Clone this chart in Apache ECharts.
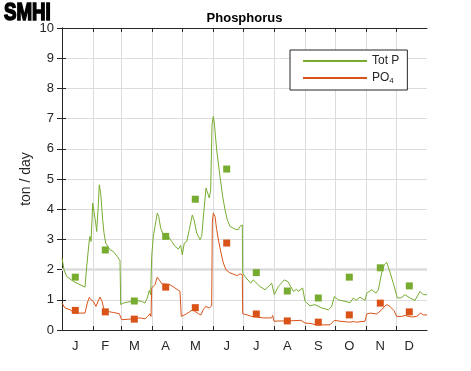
<!DOCTYPE html>
<html>
<head>
<meta charset="utf-8">
<script src="https://cdn.jsdelivr.net/npm/echarts@6/dist/echarts.min.js"></script>
<style>html,body{margin:0;padding:0;background:#fff;}#c{width:471px;height:371px;}</style>
</head>
<body>
<div id="c"></div>
<script>
// Month labels, month boundaries (day of year) and monthly sample days
var monthLabels = ['J','F','M','A','M','J','J','A','S','O','N','D'];
var monthStarts = [31,59,90,120,151,181,212,243,273,304,334];
var sampleDays = [13.3,43.3,72.3,103.7,133.3,164.7,194.3,225.3,256.3,287.3,318.3,347.3];
var yTicks = [0,1,2,3,4,5,6,7,8,9,10];

// Monthly samples
var totPSamples = [1.75,2.65,0.96,3.10,4.33,5.33,1.90,1.29,1.06,1.75,2.06,1.46];
var po4Samples  = [0.65,0.60,0.36,1.42,0.74,2.88,0.53,0.30,0.26,0.50,0.89,0.60];

// Daily model curves [day, ton/day]
var totPLine = [
[0,2.38],[2,2.0],[4.7,1.77],[11.3,1.61],[18,1.5],[23,1.42],[24.7,2.1],[27.3,2.99],[28,3.1],[29,2.93],
[30,3.65],[30.7,4.2],[32,4.25],[33.7,3.54],[34.7,3.26],[36,3.98],[37.3,4.81],[38.7,4.53],[40.7,3.65],[42,3.21],
[43.7,2.88],[48,2.66],[51.3,2.6],[55.3,2.43],[58,2.3],[58.7,0.84],[61.3,0.89],[68,0.94],[74.7,0.97],[79.7,0.95],
[83,0.89],[85.3,1.06],[87.3,1.31],[88.7,1.17],[89.7,2.43],[91.3,3.1],[93,3.43],[95.3,3.87],[96.7,3.76],[98.7,3.37],
[101.3,3.15],[106.3,3.1],[109.7,2.93],[113,2.77],[116.3,2.68],[118.7,2.8],[120.3,2.49],[122.3,2.88],[124.7,2.93],[127.3,3.32],
[130.3,3.81],[132,3.65],[134.7,3.21],[138,2.99],[139.7,3.1],[142,3.98],[144,4.7],[145.3,4.64],[147.3,4.37],[148.7,4.64],
[149.7,4.6],[150,6.79],[151.3,7.07],[152.3,6.85],[154.7,5.96],[158,5.08],[160.7,4.42],[163,3.98],[165.3,3.65],[168,3.43],
[173,3.34],[176.3,3.32],[178,3.43],[179,3.38],[180.3,3.48],[180.7,1.89],[183,1.77],[188.7,1.55],[191.3,1.66],[198,1.44],
[203,1.33],[209.7,1.55],[212.3,1.17],[216.3,1.44],[222.3,1.66],[226,1.6],[231.3,1.28],[234.7,1.35],[236.3,1.28],[240.7,1.39],
[243,0.95],[248,0.8],[253,0.84],[259.7,0.73],[266.3,0.67],[269.7,0.78],[272.3,1.11],[276.3,1.0],[283,0.95],[288,0.9],
[291.3,1.06],[294,0.98],[298,1.09],[303,0.98],[304.7,1.22],[309.7,1.33],[314,1.22],[316.3,1.33],[319.7,1.89],[322.3,2.16],
[324.7,2.24],[327.3,1.99],[331.3,1.55],[335.3,1.06],[338.7,1.06],[343,1.17],[348,1.06],[353,0.98],[358,1.28],[361.3,1.17],[365,1.17]
];
var po4Line = [
[0,0.89],[3,0.73],[8,0.67],[13,0.56],[23,0.56],[25.3,0.89],[27.3,1.08],[29,1.0],[31.3,0.95],[34,0.78],
[36,0.95],[38,1.09],[40,0.95],[42,0.67],[44.7,0.62],[51.3,0.58],[57.3,0.54],[59.7,0.34],[68,0.36],[78,0.4],
[83,0.37],[85.7,0.45],[88,0.54],[89,0.45],[89.7,1.39],[93,1.5],[95.3,1.75],[97.3,1.66],[99.7,1.53],[108,1.5],
[113,1.39],[118,1.28],[118.7,1.3],[119.3,0.45],[124.7,0.54],[126.3,0.54],[130.7,0.67],[136.3,0.54],[139,0.5],[141.3,0.67],
[143.7,0.78],[147.3,0.73],[149.7,0.8],[150.3,3.54],[151.3,3.87],[153,3.76],[154.7,3.32],[157,2.88],[159,2.55],[161.3,2.22],
[164,1.99],[168,1.89],[173,1.83],[175.3,1.8],[178,1.86],[180.3,1.83],[180.7,0.54],[185,0.5],[189.7,0.45],[195,0.43],
[201.3,0.4],[209.7,0.4],[210.7,0.48],[212,0.29],[218,0.3],[225,0.3],[239,0.32],[243,0.23],[248,0.22],[254.7,0.17],
[268,0.17],[269.7,0.2],[272.3,0.32],[278,0.29],[288,0.26],[291.3,0.28],[294.7,0.26],[303,0.29],[304.7,0.53],[308,0.56],
[314.7,0.53],[319.7,0.67],[323,0.8],[325.3,0.84],[328,0.78],[332,0.64],[334.7,0.45],[339.7,0.45],[343,0.48],[349.7,0.43],
[354.7,0.45],[358.7,0.56],[361.3,0.5],[365,0.5]
];

var GREEN = '#77AC30', ORANGE = '#D95319', AX = '#262626', GRID = '#dcdcdc';
var FONT = 'Liberation Sans, Arial, Helvetica, sans-serif';

function pairs(days, vals){ return days.map(function(d,i){ return [d, vals[i]]; }); }

var chart = echarts.init(document.getElementById('c'), null, {renderer:'canvas'});
chart.setOption({
  animation: false,
  textStyle: {fontFamily: FONT},
  graphic: [
    {type:'text', x:4, y:1, scaleX:0.78, style:{text:'SMHI', fill:'#000', stroke:'#000', lineWidth:1.6,
      font:'900 24px ' + FONT, textVerticalAlign:'top'}},
    {type:'text', x:244.5, y:18.5, style:{text:'Phosphorus', fill:'#000',
      font:'bold 13px ' + FONT, textAlign:'center', textVerticalAlign:'middle'}}
  ],
  grid: {left:62, right:44, top:28, bottom:41, containLabel:false},
  legend: {
    data: ['Tot P','PO4'], orient:'vertical', left:290, top:50,
    itemWidth:64, itemHeight:12, itemGap:5,
    itemStyle:{opacity:0},
    padding:[5,8,5,12], borderColor:AX, borderWidth:1, backgroundColor:'#fff',
    textStyle:{fontSize:12, color:AX, fontFamily:FONT,
      rich:{ m:{fontSize:12, color:AX, lineHeight:14}, sub:{fontSize:8, color:AX, verticalAlign:'bottom', lineHeight:8} } },
    formatter: function(n){ return n === 'PO4' ? '{m|PO}{sub|4}' : '{m|' + n + '}'; }
  },
  xAxis: [
    {type:'value', min:0, max:365, position:'bottom',
     axisLine:{show:true, onZero:false, lineStyle:{color:AX, width:1}},
     axisTick:{show:true, inside:true, length:4, customValues:monthStarts, lineStyle:{color:AX}},
     splitLine:{show:true, lineStyle:{color:GRID, width:1}},
     axisLabel:{show:true, customValues:sampleDays, margin:10, fontSize:13, color:AX, fontFamily:FONT,
       formatter:function(v){ var i = sampleDays.indexOf(v); return i >= 0 ? monthLabels[i] : ''; }}},
    {type:'value', min:0, max:365, position:'top',
     axisLine:{show:true, onZero:false, lineStyle:{color:AX, width:1}},
     axisTick:{show:true, inside:true, length:4, customValues:monthStarts, lineStyle:{color:AX}},
     splitLine:{show:false}, axisLabel:{show:false}}
  ],
  yAxis: [
    {type:'value', min:0, max:10, interval:1, position:'left',
     name:'ton / day', nameLocation:'middle', nameGap:29, nameMoveOverlap:false,
     nameTextStyle:{fontSize:14, color:AX, fontFamily:FONT},
     axisLine:{show:true, lineStyle:{color:AX, width:1}},
     axisTick:{show:true, inside:true, length:4, lineStyle:{color:AX}},
     splitLine:{show:true, lineStyle:{color:GRID, width:1}},
     axisLabel:{margin:8, fontSize:13, color:AX, fontFamily:FONT,
       formatter:function(v){ return yTicks.indexOf(v) >= 0 ? String(v) : ''; }}},
    {type:'value', min:0, max:10, interval:1, position:'right',
     axisLine:{show:true, lineStyle:{color:AX, width:1}},
     axisTick:{show:true, inside:true, length:5, lineStyle:{color:AX}},
     splitLine:{show:false}, axisLabel:{show:false}}
  ],
  series: [
    {name:'Tot P', type:'line', data:totPLine, symbol:'none', showSymbol:false,
     lineStyle:{color:GREEN, width:1}, itemStyle:{color:GREEN}, z:2,
     markLine:{silent:true, symbol:'none', label:{show:false},
       lineStyle:{color:GRID, width:2.5, type:'solid'}, data:[{yAxis:2}], z:1}},
    {name:'PO4', type:'line', data:po4Line, symbol:'none', showSymbol:false,
     lineStyle:{color:ORANGE, width:1}, itemStyle:{color:ORANGE}, z:2},
    {name:'Tot P sample', type:'scatter', data:pairs(sampleDays, totPSamples), symbol:'rect', symbolSize:7,
     itemStyle:{color:GREEN, opacity:1}, z:3},
    {name:'PO4 sample', type:'scatter', data:pairs(sampleDays, po4Samples), symbol:'rect', symbolSize:7,
     itemStyle:{color:ORANGE, opacity:1}, z:3}
  ]
});
</script>
</body>
</html>
